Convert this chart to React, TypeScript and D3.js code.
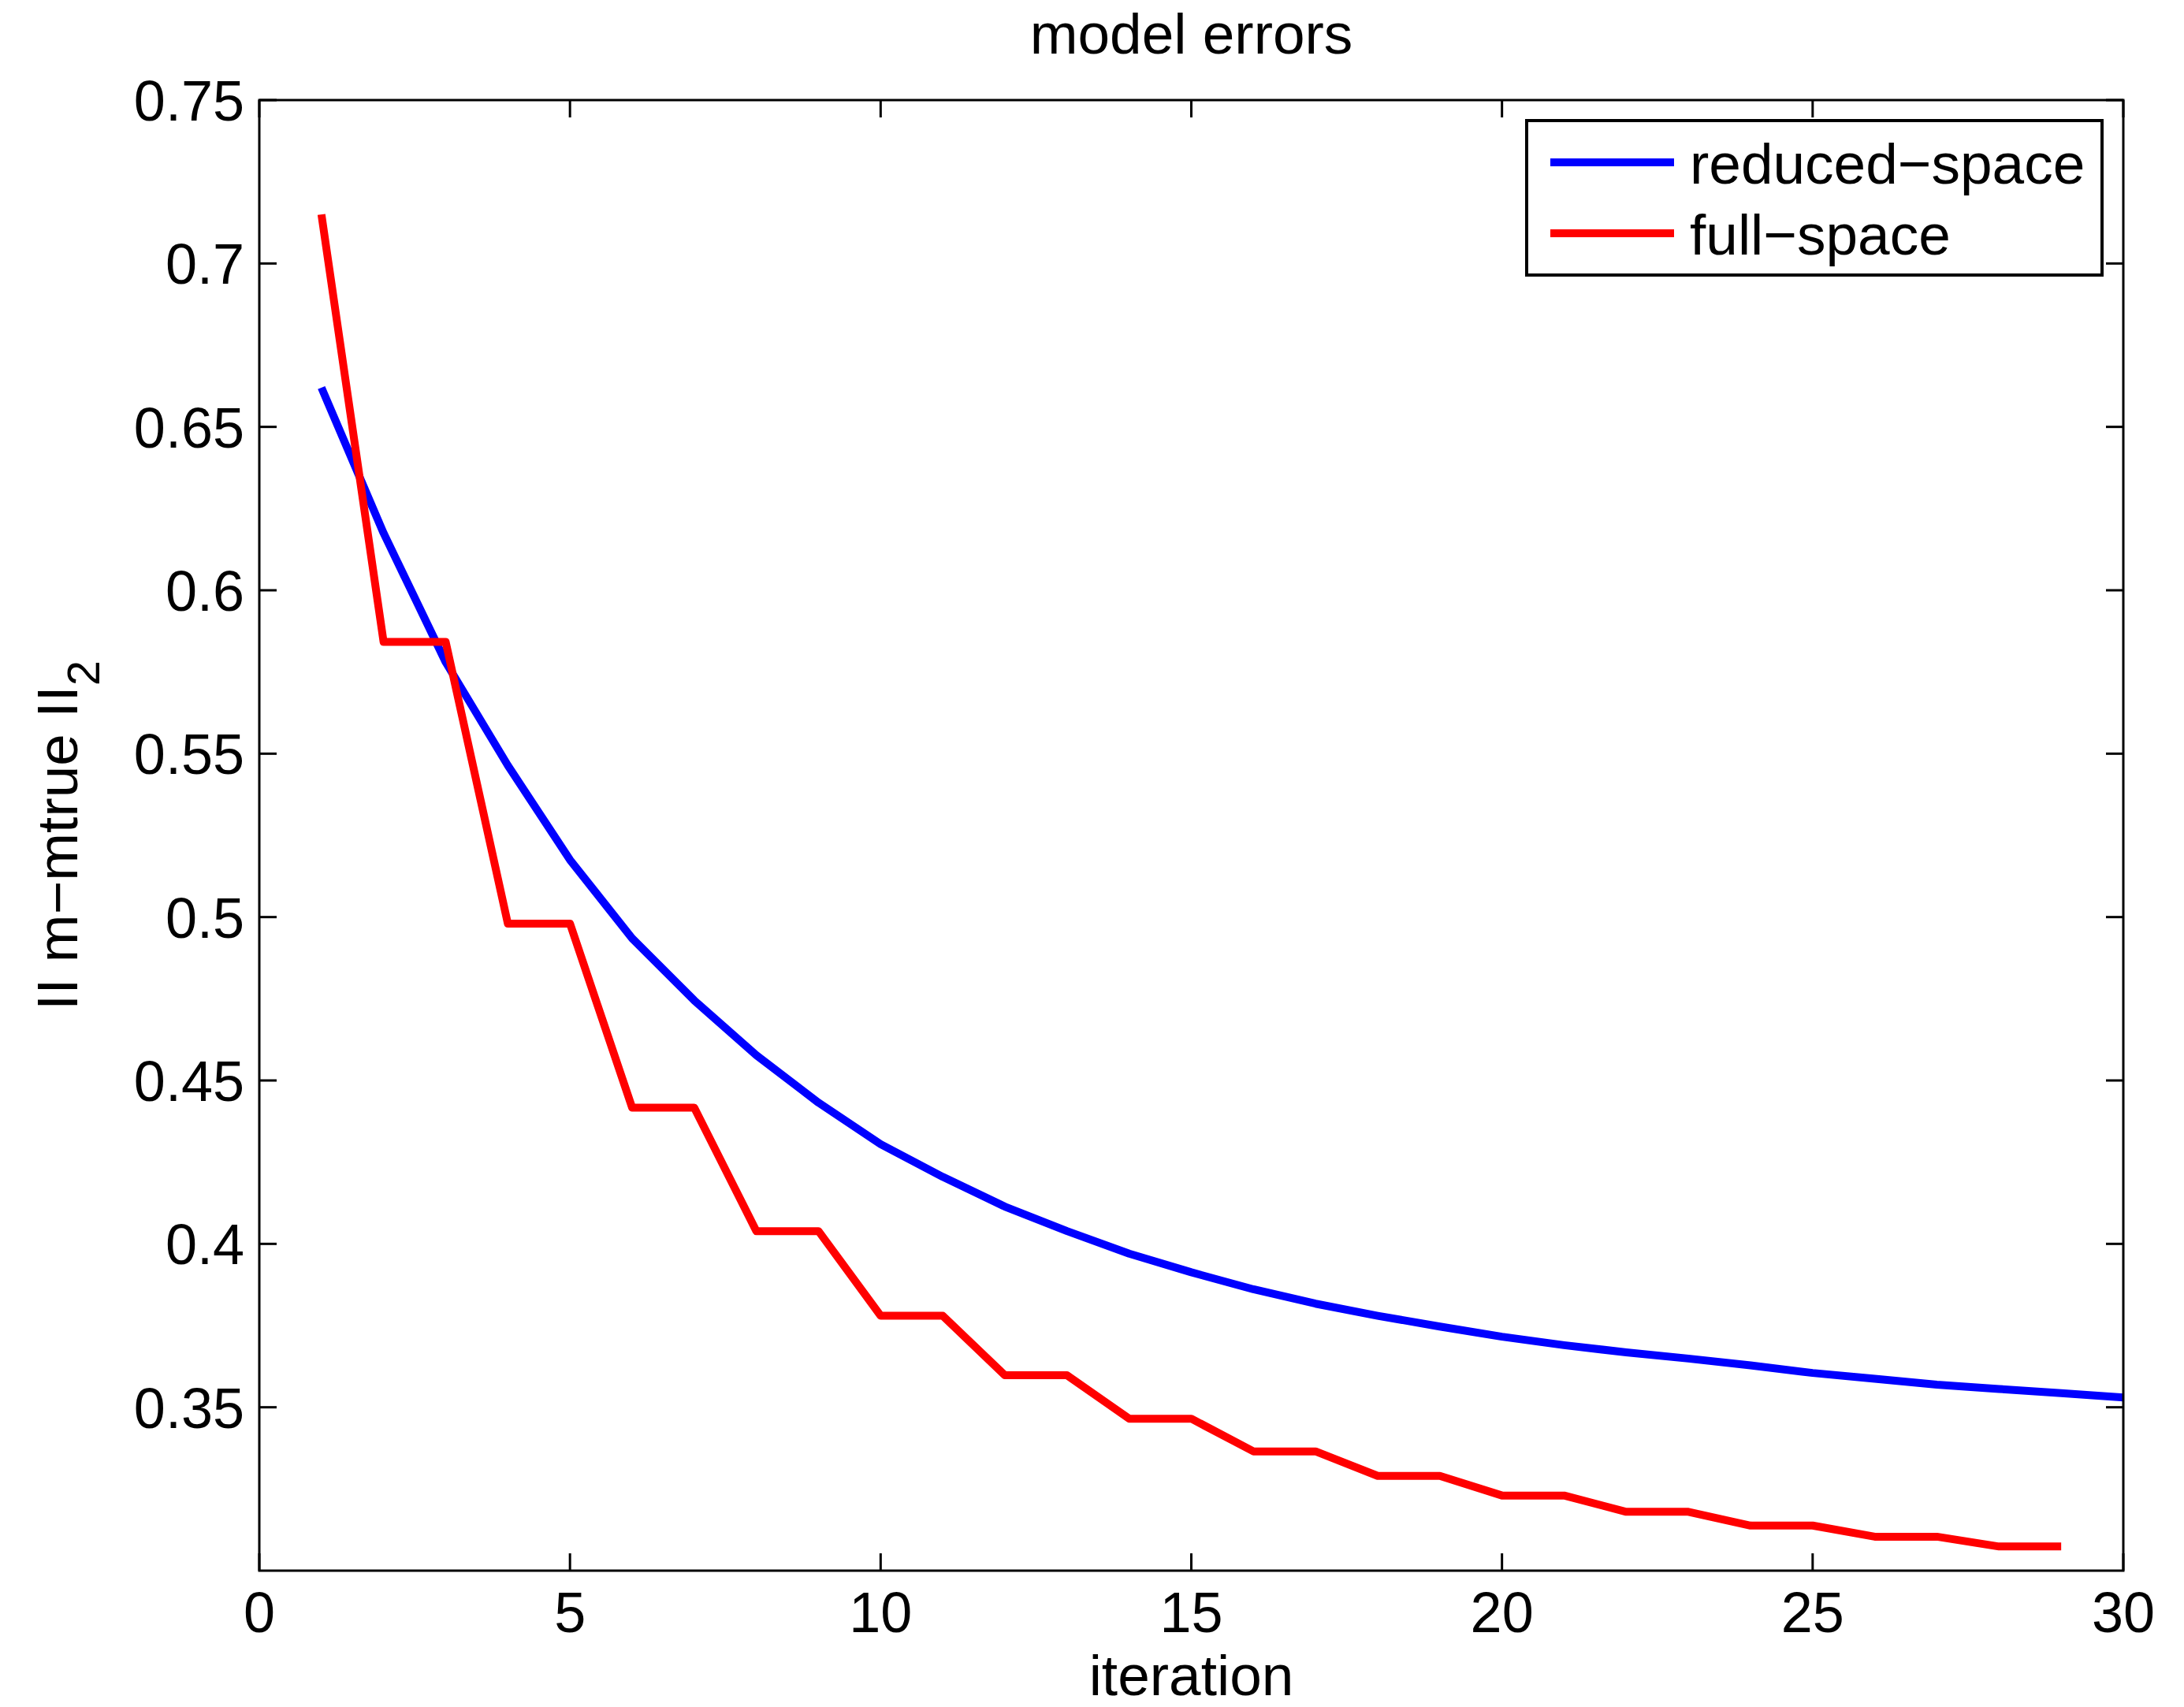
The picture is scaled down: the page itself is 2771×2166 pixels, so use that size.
import React from "react";
import * as d3 from "d3";

const iterationsReduced = d3.range(1, 31);
const reducedSpace = [
  0.662, 0.6175, 0.578, 0.5464, 0.5175, 0.4935, 0.4745, 0.4577, 0.4432, 0.4305,
  0.4205, 0.4114, 0.4039, 0.397, 0.3913, 0.3861, 0.3817, 0.378, 0.3747, 0.3716,
  0.369, 0.3668, 0.3649, 0.3628, 0.3605, 0.3587, 0.3569, 0.3556, 0.3543, 0.353,
];
const iterationsFull = d3.range(1, 30);
const fullSpace = [
  0.715, 0.5842, 0.5842, 0.498, 0.498, 0.4417, 0.4417, 0.4039, 0.4039, 0.378,
  0.378, 0.3598, 0.3598, 0.3465, 0.3465, 0.3365, 0.3365, 0.329, 0.329, 0.323,
  0.323, 0.318, 0.318, 0.3138, 0.3138, 0.3104, 0.3104, 0.3074, 0.3074,
];
const xTicks = [0, 5, 10, 15, 20, 25, 30];
const yTicks = [0.35, 0.4, 0.45, 0.5, 0.55, 0.6, 0.65, 0.7, 0.75];
const yTickLabels = ["0.35", "0.4", "0.45", "0.5", "0.55", "0.6", "0.65", "0.7", "0.75"];
const seriesNames = ["reduced\u2212space", "full\u2212space"];
const seriesColors = ["#0000ff", "#ff0000"];

const W = 2771;
const H = 2166;
const L = 329, R = 2694, T = 127, B = 1993;
const FONT = "'Liberation Sans', Arial, Helvetica, sans-serif";

export default function App() {
  const x = d3.scaleLinear().domain([0, 30]).range([L, R]);
  const y = d3.scaleLinear().domain([0.3, 0.75]).range([B, T]);
  const line = d3
    .line<[number, number]>()
    .x((d) => x(d[0]))
    .y((d) => y(d[1]));
  const reducedPts: [number, number][] = iterationsReduced.map((it, i) => [it, reducedSpace[i]]);
  const fullPts: [number, number][] = iterationsFull.map((it, i) => [it, fullSpace[i]]);
  const tickLen = 22;
  const ax = 3;

  return (
    <svg
      width={W}
      height={H}
      viewBox={`0 0 ${W} ${H}`}
      style={{ position: "absolute", left: 0, top: 0, background: "#fff" }}
      fontFamily={FONT}
    >
      <rect x={0} y={0} width={W} height={H} fill="#fff" />
      <rect x={L} y={T} width={R - L} height={B - T} fill="#fff" />

      {/* data lines */}
      <path d={line(reducedPts) || ""} fill="none" stroke={seriesColors[0]} strokeWidth={10} strokeLinejoin="round" strokeLinecap="butt" />
      <path d={line(fullPts) || ""} fill="none" stroke={seriesColors[1]} strokeWidth={10} strokeLinejoin="round" strokeLinecap="butt" />

      {/* ticks */}
      {xTicks.map((t) => (
        <g key={"xt" + t}>
          <line x1={x(t)} x2={x(t)} y1={B} y2={B - tickLen} stroke="#000" strokeWidth={ax} />
          <line x1={x(t)} x2={x(t)} y1={T} y2={T + tickLen} stroke="#000" strokeWidth={ax} />
          <text x={x(t)} y={B + 78} fontSize={72} textAnchor="middle" fill="#000">
            {t}
          </text>
        </g>
      ))}
      {yTicks.map((t, i) => (
        <g key={"yt" + t}>
          <line x1={L} x2={L + tickLen} y1={y(t)} y2={y(t)} stroke="#000" strokeWidth={ax} />
          <line x1={R} x2={R - tickLen} y1={y(t)} y2={y(t)} stroke="#000" strokeWidth={ax} />
          <text x={L - 19} y={y(t) + 26} fontSize={72} textAnchor="end" fill="#000">
            {yTickLabels[i]}
          </text>
        </g>
      ))}

      {/* axes box */}
      <rect x={L} y={T} width={R - L} height={B - T} fill="none" stroke="#000" strokeWidth={ax} />

      {/* title and labels */}
      <text x={(L + R) / 2} y={68} fontSize={73} textAnchor="middle" fill="#000">
        model errors
      </text>
      <text x={(L + R) / 2} y={2151} fontSize={73} textAnchor="middle" fill="#000">
        iteration
      </text>
      <text
        transform={`translate(98, ${(T + B) / 2}) rotate(-90)`}
        fontSize={73}
        textAnchor="middle"
        fill="#000"
      >
        <tspan>II m{"\u2212"}mtrue II</tspan>
        <tspan fontSize={58} dy={28}>2</tspan>
      </text>

      {/* legend */}
      <rect x={1937} y={153} width={730} height={196} fill="#fff" stroke="#000" strokeWidth={4} />
      {seriesNames.map((name, i) => (
        <g key={name}>
          <line x1={1967} x2={2124} y1={206 + i * 90} y2={206 + i * 90} stroke={seriesColors[i]} strokeWidth={10} />
          <text x={2144} y={233 + i * 90} fontSize={73} fill="#000">
            {name}
          </text>
        </g>
      ))}
    </svg>
  );
}
